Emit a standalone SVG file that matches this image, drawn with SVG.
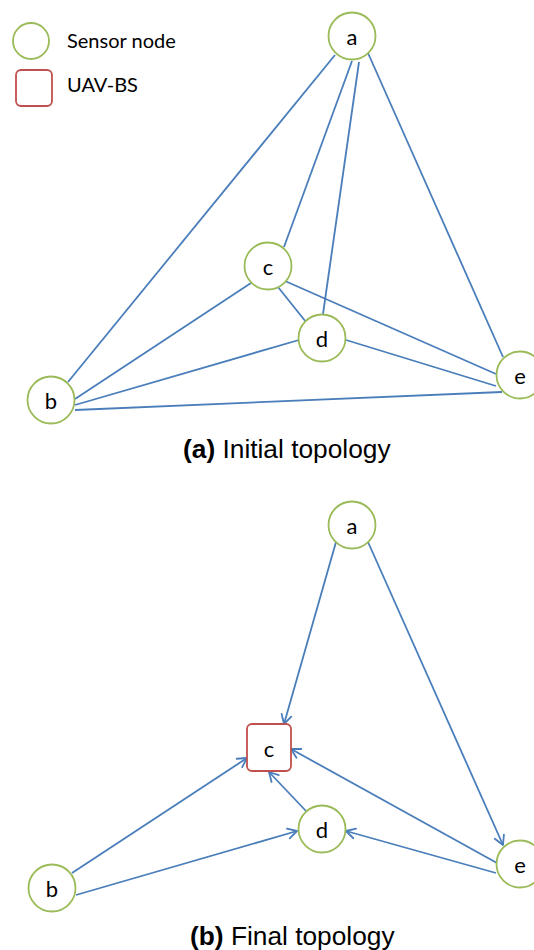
<svg xmlns="http://www.w3.org/2000/svg" width="534" height="950" viewBox="0 0 534 950">
<style>
.node{fill:#fff;stroke:#9BBB59;stroke-width:1.8}
.uav{fill:#fff;stroke:#C0504D;stroke-width:1.8}
.lbl{font-family:Lato,"Open Sans",sans-serif;font-size:22px;fill:#000;text-anchor:middle;dominant-baseline:central}
.leg{font-family:Lato,"Open Sans",sans-serif;font-size:20px;fill:#000}
.cap{font-family:"Liberation Sans",Arial,sans-serif;font-size:26.3px;fill:#000}
.edge line{stroke:#4A7EBB;stroke-width:1.8;fill:none}
.arr line{marker-end:url(#ah)}
</style>
<defs>
<marker id="ah" markerUnits="userSpaceOnUse" markerWidth="14" markerHeight="14" refX="11" refY="6" orient="auto" viewBox="0 0 14 12">
<path d="M2,1 L11,6 L2,11" fill="none" stroke="#4A7EBB" stroke-width="1.8" stroke-linecap="round" stroke-linejoin="round"/>
</marker>
</defs>
<g id="legend">
<circle class="node" cx="31" cy="41" r="18"/>
<text class="leg" x="67" y="48">Sensor node</text>
<rect class="uav" x="16" y="70" width="36" height="36" rx="5"/>
<text class="leg" x="67" y="92">UAV-BS</text>
</g>
<g id="edges-a" class="edge">
<line x1="335" y1="55" x2="68" y2="382"/>
<line x1="352" y1="61" x2="284" y2="247"/>
<line x1="359" y1="62" x2="323" y2="314"/>
<line x1="368" y1="53" x2="503" y2="357"/>
<line x1="75" y1="399" x2="251" y2="283"/>
<line x1="75" y1="405" x2="299" y2="340"/>
<line x1="75" y1="410" x2="502" y2="392"/>
<line x1="278" y1="287" x2="306" y2="322"/>
<line x1="285" y1="281" x2="496" y2="374"/>
<line x1="346" y1="340" x2="496" y2="386"/>
</g>
<g id="a1"><circle class="node" cx="352" cy="36" r="23.5"/><text class="lbl" x="352" y="36">a</text></g>
<g id="c1"><circle class="node" cx="268" cy="266" r="23.5"/><text class="lbl" x="268" y="266">c</text></g>
<g id="d1"><circle class="node" cx="322" cy="338" r="23.5"/><text class="lbl" x="322" y="338">d</text></g>
<g id="b1"><circle class="node" cx="51" cy="400" r="23.5"/><text class="lbl" x="51" y="400">b</text></g>
<g id="e1"><circle class="node" cx="520" cy="375" r="23.5"/><text class="lbl" x="520" y="375">e</text></g>
<text class="cap" x="183" y="458"><tspan font-weight="bold">(a)</tspan> Initial topology</text>
<g id="edges-b" class="edge arr">
<line x1="336" y1="542" x2="284" y2="724"/>
<line x1="368" y1="542" x2="503" y2="845"/>
<line x1="72" y1="873" x2="247" y2="758"/>
<line x1="76" y1="895" x2="297" y2="831"/>
<line x1="306" y1="811" x2="269" y2="772"/>
<line x1="497" y1="863" x2="291" y2="749"/>
<line x1="496" y1="873" x2="346" y2="831"/>
</g>
<g id="a2"><circle class="node" cx="352" cy="525" r="23.5"/><text class="lbl" x="352" y="525">a</text></g>
<g id="c2"><rect class="uav" x="247" y="724" width="44" height="47" rx="5"/><text class="lbl" x="269" y="748">c</text></g>
<g id="d2"><circle class="node" cx="322" cy="829" r="23.5"/><text class="lbl" x="322" y="829">d</text></g>
<g id="b2"><circle class="node" cx="52" cy="888" r="23.5"/><text class="lbl" x="52" y="888">b</text></g>
<g id="e2"><circle class="node" cx="520" cy="864" r="23.5"/><text class="lbl" x="520" y="864">e</text></g>
<text class="cap" x="190" y="945"><tspan font-weight="bold">(b)</tspan> Final topology</text>
</svg>
